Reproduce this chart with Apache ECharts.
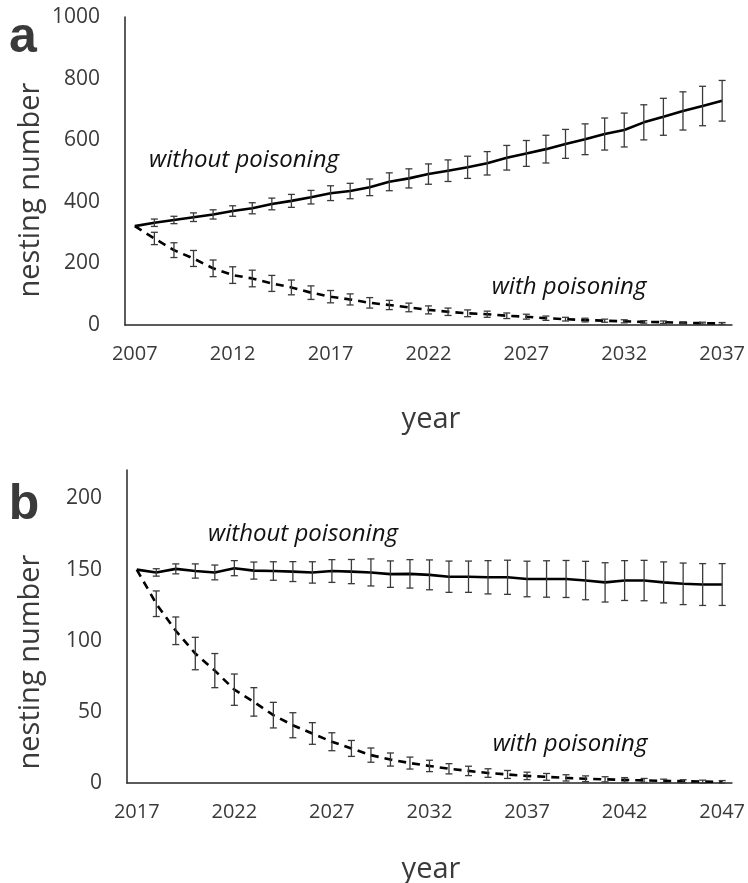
<!DOCTYPE html>
<html>
<head>
<meta charset="utf-8">
<script src="https://cdn.jsdelivr.net/npm/echarts@6/dist/echarts.min.js"></script>
<style>
html,body{margin:0;padding:0;background:#fff;}
#chart{width:748px;height:883px;}
</style>
</head>
<body>
<div id="chart"></div>
<script>
// ---------- Panel a data ----------
var yearsA = ['2007','2008','2009','2010','2011','2012','2013','2014','2015','2016','2017','2018','2019','2020','2021','2022','2023','2024','2025','2026','2027','2028','2029','2030','2031','2032','2033','2034','2035','2036','2037'];
var aWithout = [321,332,341,350,359,370,379,393,403,415,428,435,447,465,476,490,501,512,525,543,557,571,588,603,620,633,658,676,695,711,728];
var aWithoutErr = [0,12,12,14,15,17,18,19,21,22,24,25,27,29,31,33,35,36,38,40,42,45,47,50,52,55,57,60,62,64,66];
var aWith = [321,281,243,216,184,162,151,135,122,105,92,83,72,65,57,49,43,38,35,30,27,22,19,16,14,12,10,9,7,6,5];
var aWithErr = [0,20,24,26,27,27,27,26,24,22,20,18,17,15,14,13,12,11,10,9,8,7,6,6,5,5,4,4,3,3,3];
var aYTicks = [0,200,400,600,800,1000];

// ---------- Panel b data ----------
var yearsB = ['2017','2018','2019','2020','2021','2022','2023','2024','2025','2026','2027','2028','2029','2030','2031','2032','2033','2034','2035','2036','2037','2038','2039','2040','2041','2042','2043','2044','2045','2046','2047'];
var bWithout = [150,148,150.5,149,148,151,149.3,149,148.6,148,149,148.6,148,146.8,147,146.3,145,145,144.6,144.6,143.4,143.4,143.4,142.3,141,142.3,142.3,141,140,139.5,139.5];
var bWithoutErr = [0,2.6,3.5,5,5.2,5.3,6,6.5,7,7.5,8,8.5,9.5,9.3,10,10.5,11,11,11.7,12,12.5,12.8,13,13.5,13.8,14,14.2,14.4,14.6,14.7,14.7];
var bWith = [150,126,107,91,79,65.6,57,47.7,40.6,34.8,29,24.3,19.6,16.5,14,12,10,8.5,7,6,5,4.3,3.6,3,2.6,2.2,1.8,1.5,1.2,1.0,0.8];
var bWithErr = [0,9,9.7,11.4,12,11,10,9,8.8,7.6,6.3,5.6,5,4.6,4.2,4,3.6,3.3,3,2.8,2.6,2.4,2.2,2,1.8,1.6,1.4,1.2,1.1,1,0.9];
var bYTicks = [0,50,100,150,200];

var labelColor = '#3a3a3a';
var axisColor = '#262626';
var tickFont = 'Open Sans';

function errData(vals, errs) {
  return vals.map(function (v, i) { return [i, v, errs[i]]; });
}
function errRender(params, api) {
  var e = api.value(2);
  if (!e) return null;
  var x = api.value(0), v = api.value(1);
  var hi = api.coord([x, v + e]);
  var lo = api.coord([x, Math.max(0, v - e)]);
  var w = 3.5;
  var st = { stroke: '#3a3a3a', lineWidth: 1.3 };
  return {
    type: 'group',
    children: [
      { type: 'line', shape: { x1: hi[0], y1: hi[1], x2: lo[0], y2: lo[1] }, style: st },
      { type: 'line', shape: { x1: hi[0] - w, y1: hi[1], x2: hi[0] + w, y2: hi[1] }, style: st },
      { type: 'line', shape: { x1: lo[0] - w, y1: lo[1], x2: lo[0] + w, y2: lo[1] }, style: st }
    ]
  };
}

function xAxisCfg(grid, cats) {
  return {
    type: 'category', gridIndex: grid, data: cats, boundaryGap: true,
    axisLine: { show: true, lineStyle: { color: axisColor, width: 1.5 } },
    axisTick: { show: false },
    splitLine: { show: false },
    axisLabel: { interval: 4, color: labelColor, fontFamily: tickFont, fontSize: 20, margin: 19 }
  };
}
function yAxisCfg(grid, ticks, max) {
  return {
    type: 'value', gridIndex: grid, min: ticks[0], max: max, interval: ticks[1] - ticks[0],
    axisLine: { show: true, lineStyle: { color: axisColor, width: 1.5 } },
    axisTick: { show: false },
    splitLine: { show: false },
    axisLabel: {
      color: labelColor, fontFamily: tickFont, fontSize: 21, margin: 25,
      showMaxLabel: max === ticks[ticks.length - 1],
      formatter: function (v) { return String(v); }
    }
  };
}
function lineSeries(xi, data, dashed) {
  return {
    type: 'line', xAxisIndex: xi, yAxisIndex: xi, data: data, showSymbol: false, symbol: 'none',
    lineStyle: { color: '#000', width: 2.6, type: dashed ? [8, 6] : 'solid' },
    z: 3, animation: false
  };
}
function errSeries(xi, vals, errs) {
  return {
    type: 'custom', xAxisIndex: xi, yAxisIndex: xi, data: errData(vals, errs),
    encode: { x: 0, y: 1 }, renderItem: errRender, z: 4, animation: false, silent: true
  };
}

function txt(x, y, s, font, rot) {
  return {
    type: 'text', x: x, y: y, rotation: rot || 0, silent: true,
    style: { text: s, font: font, fill: labelColor, textAlign: 'center', textVerticalAlign: 'middle' }
  };
}
function ann(x, y, s) {
  return {
    type: 'text', x: x, y: y, silent: true,
    style: { text: s, font: 'italic 24px "Open Sans"', fill: '#111', textAlign: 'center', textVerticalAlign: 'middle' }
  };
}

var chart = echarts.init(document.getElementById('chart'), null, { renderer: 'canvas' });
chart.setOption({
  backgroundColor: '#fff',
  animation: false,
  grid: [
    { left: 125, top: 17, width: 607, height: 308 },
    { left: 127, top: 470, width: 608, height: 313 }
  ],
  xAxis: [xAxisCfg(0, yearsA), xAxisCfg(1, yearsB)],
  yAxis: [yAxisCfg(0, aYTicks, 1000), yAxisCfg(1, bYTicks, 220)],
  series: [
    lineSeries(0, aWithout, false),
    lineSeries(0, aWith, true),
    errSeries(0, aWithout, aWithoutErr),
    errSeries(0, aWith, aWithErr),
    lineSeries(1, bWithout, false),
    lineSeries(1, bWith, true),
    errSeries(1, bWithout, bWithoutErr),
    errSeries(1, bWith, bWithErr)
  ],
  graphic: [
    txt(23, 38, 'a', 'bold 50px "Liberation Sans"'),
    txt(24, 505, 'b', 'bold 50px "Liberation Sans"'),
    txt(31, 190, 'nesting number', '29px "Open Sans"', Math.PI / 2),
    txt(31, 662, 'nesting number', '29px "Open Sans"', Math.PI / 2),
    txt(431, 420, 'year', '29px "Open Sans"'),
    txt(431, 870, 'year', '29px "Open Sans"'),
    ann(244, 160, 'without poisoning'),
    ann(569, 287, 'with poisoning'),
    ann(303, 534, 'without poisoning'),
    ann(570, 744, 'with poisoning')
  ]
});
</script>
</body>
</html>
